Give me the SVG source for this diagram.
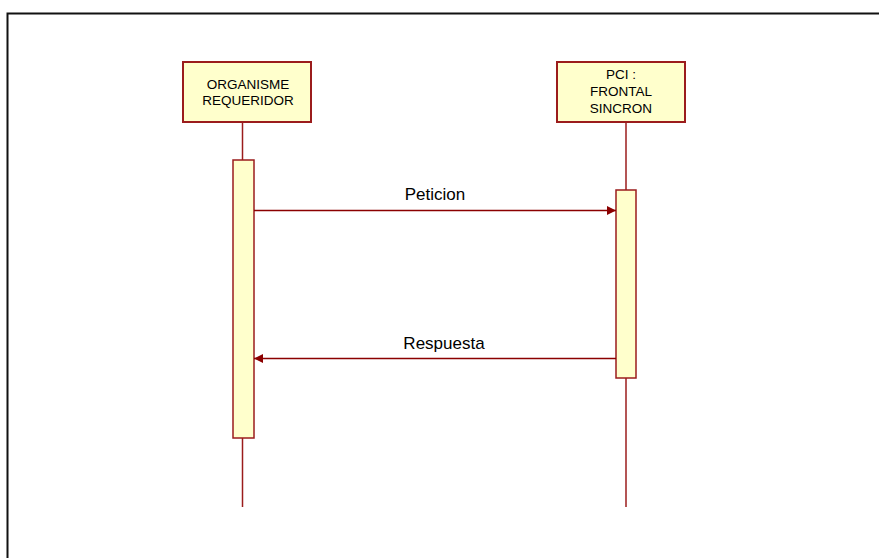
<svg xmlns="http://www.w3.org/2000/svg" width="879" height="558" viewBox="0 0 879 558">
<style>
.box{fill:#FFFFCC;stroke:#9B1C1C;stroke-width:2}
.act{fill:#FFFFCC;stroke:#9B1C1C;stroke-width:1.5}
.life{stroke:#9B1C1C;stroke-width:1.5;fill:none}
.msg{stroke:#8B0000;stroke-width:1.5;fill:none}
.t{font-family:"Liberation Sans",Arial,sans-serif;font-size:13.5px;fill:#000;text-anchor:middle}
.l{font-family:"Liberation Sans",Arial,sans-serif;font-size:17px;fill:#000;text-anchor:middle}
</style>
<defs>
<marker id="ah" viewBox="0 0 10 10" refX="10" refY="5" markerWidth="10" markerHeight="9" markerUnits="userSpaceOnUse" orient="auto">
<path d="M0,0 L10,5 L0,10 z" fill="#8B0000"/>
</marker>
</defs>
<rect x="0" y="0" width="879" height="558" fill="#fff"/>
<path d="M7.5,560 L7.5,13.5 L880,13.5" fill="none" stroke="#111" stroke-width="2"/>
<g id="organisme">
<line class="life" x1="242.5" y1="122" x2="242.5" y2="507"/>
<rect class="box" x="183" y="62" width="128" height="60"/>
<text class="t" x="248" y="89">ORGANISME</text>
<text class="t" x="248" y="105">REQUERIDOR</text>
<rect class="act" x="233" y="160" width="21" height="278"/>
</g>
<g id="pci">
<line class="life" x1="626" y1="122" x2="626" y2="507"/>
<rect class="box" x="557" y="62" width="128" height="60"/>
<text class="t" x="621" y="79">PCI :</text>
<text class="t" x="621" y="96">FRONTAL</text>
<text class="t" x="621" y="113">SINCRON</text>
<rect class="act" x="616" y="190" width="20" height="188"/>
</g>
<g id="connectors">
<line class="msg" x1="254" y1="210.5" x2="616" y2="210.5" marker-end="url(#ah)"/>
<text class="l" x="435" y="200">Peticion</text>
<line class="msg" x1="616" y1="358.5" x2="254" y2="358.5" marker-end="url(#ah)"/>
<text class="l" x="444" y="349">Respuesta</text>
</g>
</svg>
